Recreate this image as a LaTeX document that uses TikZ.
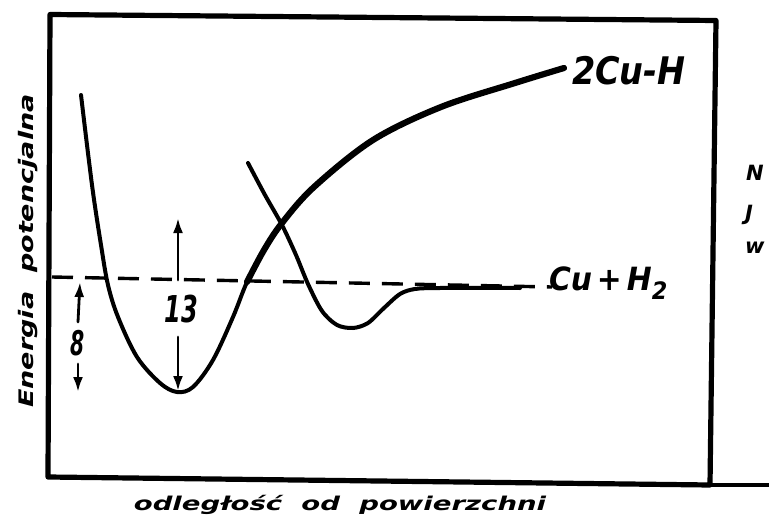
\documentclass[tikz,border=0pt]{standalone}
\usepackage{fontspec}
\usepackage{graphicx}
\setmainfont{DejaVu Sans}
\usetikzlibrary{arrows.meta}
\begin{document}
\begin{tikzpicture}[x=1pt,y=-1pt, line cap=round, line join=round,
  frame/.style={line width=5.2pt},
  thincurve/.style={line width=4pt},
  thickcurve/.style={line width=6.2pt},
  dashline/.style={line width=3.4pt, line cap=butt, dash pattern=on 21pt off 12pt},
  arr/.style={line width=2.8pt, -{Latex[length=15pt,width=10pt]}},
  hand/.style={font=\bfseries\itshape, inner sep=0pt, outer sep=0pt},
]
\useasboundingbox (0,0) rectangle (769,524);

% frame
\coordinate (TL) at (50,14.5);
\coordinate (TR) at (716,20.5);
\coordinate (BR) at (710,485);
\coordinate (BL) at (48,477);
\coordinate (Xend) at (770,485);
\draw[frame] (TL) -- (TR) -- (BR) -- (BL) -- cycle;
\draw[line width=4pt] (BR) -- (Xend);

% dashed reference level
\coordinate (DL) at (52,277);
\coordinate (DR) at (552,287);
\draw[dashline] (DL) -- (DR);

% chemisorption curve 2Cu-H
\draw[thincurve] plot[smooth, tension=0.55] coordinates {
  (81,95) (92,185) (101,245) (108,285) (118,317) (137,357) (160,383) (177,392)
  (193,387) (213,360) (233,317) (247,282) (264,250) (282,223) (314,187)
  (373,140) (441,107) (515,83) (564,68)};
\draw[thickcurve] plot[smooth, tension=0.55] coordinates {
  (247,282) (264,250) (282,223) (314,187)
  (373,140) (441,107) (515,83) (564,68)};

% physisorption curve Cu + H2
\draw[thincurve] plot[smooth, tension=0.5] coordinates {
  (248,163) (265,195) (282,225) (296,255) (308,284) (322,311) (337,325)
  (353,328) (368,323) (384,308) (400,294) (415,289) (440,288) (520,288)};

% arrows 13
\coordinate (U13a) at (178,280);
\coordinate (U13b) at (178,218);
\coordinate (D13a) at (178,337);
\coordinate (D13b) at (178,391);
\draw[arr] (U13a) -- (U13b);
\draw[arr] (D13a) -- (D13b);
\node[hand, anchor=base] (n13) at (181,322) {\fontsize{37}{40}\selectfont\scalebox{0.65}[1]{13}};

% arrows 8
\coordinate (U8a) at (78,322);
\coordinate (U8b) at (80,282);
\coordinate (D8a) at (78,364);
\coordinate (D8b) at (78,392);
\draw[arr] (U8a) -- (U8b);
\draw[arr] (D8a) -- (D8b);
\node[hand, anchor=base] (n8) at (78,355) {\fontsize{34}{36}\selectfont\scalebox{0.6}[1]{8}};

% curve labels
\node[hand, anchor=base west] (l2cuh) at (572,85) {\fontsize{38}{40}\selectfont\scalebox{0.88}[1]{2Cu-H}};
\node[hand, anchor=base west] (lcuh2) at (549,290) {\fontsize{32}{34}\selectfont\scalebox{0.93}[1]{Cu\,+\,H\raisebox{-0.3em}{\fontsize{24}{26}\selectfont 2}}};

% axis labels
\node[hand, rotate=90, anchor=base] (ylab) at (33,251) {\fontsize{20}{22}\selectfont\scalebox{1.35}[1]{Energia\ \ potencjalna}};
\node[hand, anchor=base] (xlab) at (340,510) {\fontsize{19}{21}\selectfont\scalebox{1.45}[1]{odległość\ \ od\ \ powierzchni}};

% cut-off text at the right edge
\node[hand, anchor=base west] (r1) at (746,181) {\fontsize{21}{23}\selectfont N};
\node[hand, anchor=base west] (r2) at (745,221) {\fontsize{21}{23}\selectfont J};
\node[hand, anchor=base west] (r3) at (745,253) {\fontsize{21}{23}\selectfont w};
\end{tikzpicture}
\end{document}
